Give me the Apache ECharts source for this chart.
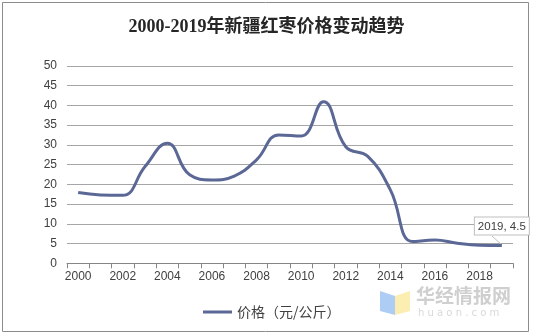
<!DOCTYPE html>
<html><head><meta charset="utf-8">
<script src="https://cdn.jsdelivr.net/npm/echarts@6/dist/echarts.min.js"></script>
<style>html,body{margin:0;padding:0;background:#fff}#c{width:533px;height:336px}</style>
</head><body><div id="c"></div>
<script>
var years = ['2000','2001','2002','2003','2004','2005','2006','2007','2008','2009','2010','2011','2012','2013','2014','2015','2016','2017','2018','2019'];
var prices = [17.9,17.3,17.2,24.5,30.4,22.4,21.1,22.1,26.2,32.5,32.2,40.9,29.5,27.0,18.6,5.5,5.9,5.1,4.6,4.5];
var seriesName = '价格（元/公斤）';
var titleText = '2000-2019年新疆红枣价格变动趋势';
var lastLabel = '2019, 4.5';

var chart = echarts.init(document.getElementById('c'));
var data = prices.map(function(v,i){
  if (i === prices.length-1) {
    return {value:v, label:{show:true, formatter:lastLabel, position:'top', offset:[0,-6],
      color:'#404040', fontSize:11.5, fontFamily:'Liberation Sans', backgroundColor:'#fff',
      borderColor:'#bfbfbf', borderWidth:1, padding:[3,3,2,3]}};
  }
  return v;
});
chart.setOption({
  animation:false,
  title:{text:titleText, left:'center', top:13,
    textStyle:{fontSize:18, fontWeight:'bold', color:'#262626', fontFamily:'Liberation Serif, Noto Sans CJK SC'}},
  grid:{left:67, right:20, top:65.8, bottom:72.7},
  legend:{data:[seriesName], bottom:12, left:198, icon:'rect', itemWidth:29, itemHeight:3, itemGap:3,
    textStyle:{fontSize:14, color:'#404040', fontFamily:'Noto Sans CJK SC'}},
  xAxis:{type:'category', data:years, boundaryGap:true,
    axisLine:{lineStyle:{color:'#868686'}},
    axisTick:{show:true, interval:0, length:5, lineStyle:{color:'#868686'}},
    axisLabel:{interval:1, color:'#404040', fontSize:12, fontFamily:'Liberation Sans', margin:7}},
  yAxis:{type:'value', min:0, max:50, interval:5,
    axisLine:{show:false}, axisTick:{show:false},
    axisLabel:{color:'#404040', fontSize:12, fontFamily:'Liberation Sans', margin:10},
    splitLine:{lineStyle:{color:'#a6a6a6'}}},
  series:[{name:seriesName, type:'line', data:data, smooth:0.45, symbol:'circle', symbolSize:0, showSymbol:true,
    lineStyle:{color:'#5b6895', width:3}, itemStyle:{color:'#5b6895'}}],
  graphic:[
    {type:'rect', shape:{x:2.5,y:2.5,width:526,height:329}, style:{fill:null, stroke:'#8c8c8c', lineWidth:1}, silent:true},
    {type:'line', shape:{x1:492,y1:236,x2:502,y2:245}, style:{stroke:'#bfbfbf', lineWidth:1}, silent:true, z:1},
    {type:'polygon', shape:{points:[[380,291],[395,296],[395,315],[380,311]]}, style:{fill:'#aecdf5'}, silent:true},
    {type:'polygon', shape:{points:[[395,296],[410,291],[410,311],[395,315]]}, style:{fill:'#fbeeb0'}, silent:true},
    {type:'text', left:416, top:286, style:{text:'华经情报网', fontSize:19, fontWeight:'bold', fill:'#cfcfcf', fontFamily:'Noto Sans CJK SC'}, silent:true},
    {type:'text', left:418, top:308, style:{text:'h u a o n . c o m', fontSize:10, fill:'#d9d9d9', fontFamily:'DejaVu Sans'}, silent:true}
  ]
});
</script></body></html>
